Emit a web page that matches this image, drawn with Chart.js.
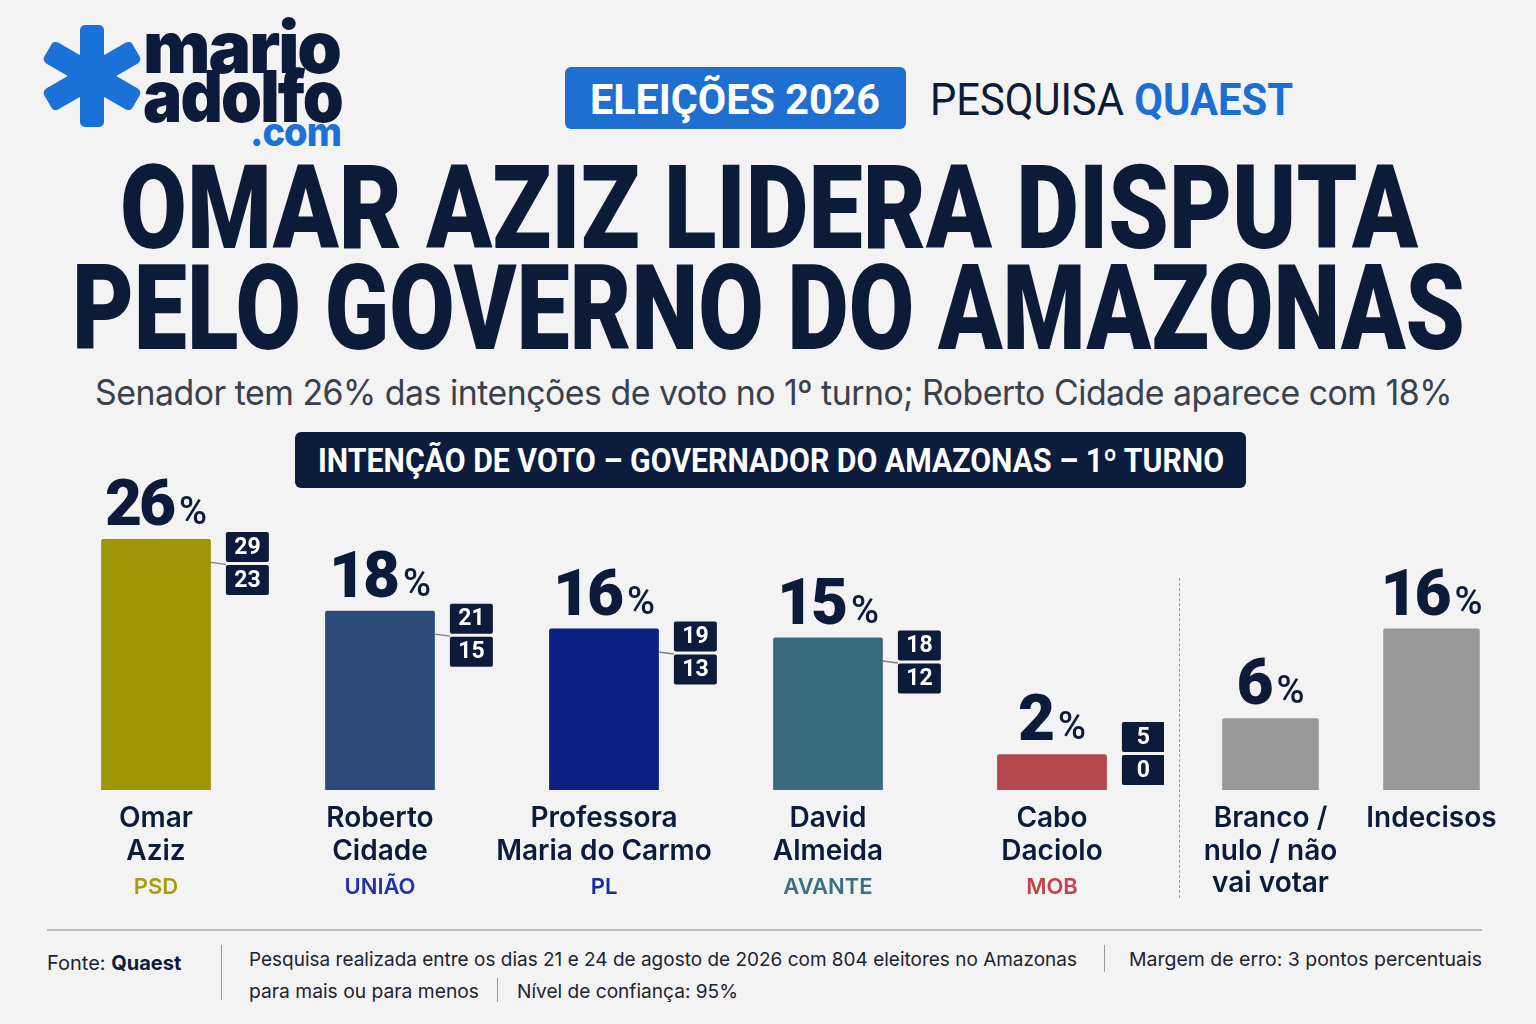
<!DOCTYPE html>
<html><head><meta charset="utf-8">
<script src="https://cdn.jsdelivr.net/npm/chart.js@4.4.1/dist/chart.umd.min.js"></script>
<style>
html,body{margin:0;padding:0;background:#f3f3f3;}
#page{position:relative;width:1536px;height:1024px;overflow:hidden;background:#f3f3f3;font-family:Inter,"Noto Sans",sans-serif;color:#0d1b3a;}
.abs{position:absolute;white-space:nowrap;line-height:1;}
.fit{transform-origin:0 0;display:inline-block;}
canvas{position:absolute;}
</style></head>
<body><div id="page">
<svg class="abs" style="left:0;top:0" width="160" height="160">
 <g transform="translate(92,76)" fill="#1a72d8">
  <rect x="-12" y="-51" width="24" height="102" rx="5"/>
  <rect x="-12" y="-51" width="24" height="102" rx="5" transform="rotate(60)"/>
  <rect x="-12" y="-51" width="24" height="102" rx="5" transform="rotate(120)"/>
 </g>
</svg>
<div class="abs fit" data-w="197" style="left:143px;top:3px;font:900 72px Inter;color:#0d1b3a;letter-spacing:-2px">mario</div>
<div class="abs fit" data-w="199" style="left:143px;top:52px;font:900 72px Inter;color:#0d1b3a;letter-spacing:-2px">adolfo</div>
<div class="abs fit" data-w="91" style="left:250px;top:107px;font:800 40px Inter;color:#1a72d8;letter-spacing:-1px">.com</div>

<div class="abs" style="left:565px;top:67px;width:341px;height:62px;background:#1f6fd1;border-radius:6px;"></div>
<div class="abs fit" data-w="290" style="left:590px;top:74px;font:700 43px Roboto;color:#fff">ELEIÇÕES 2026</div>
<div class="abs fit" data-w="363" style="left:930px;top:73px;font:400 45px Roboto;color:#0d1b3a">PESQUISA <b style="color:#1a6fd0;font-weight:700">QUAEST</b></div>

<div class="abs fit" data-w="1298" style="left:120px;top:139px;font:900 117px Roboto;color:#0c1b38">OMAR AZIZ LIDERA DISPUTA</div>
<div class="abs fit" data-w="1393" style="left:72px;top:239px;font:900 119px Roboto;color:#0c1b38">PELO GOVERNO DO AMAZONAS</div>

<div class="abs fit" data-w="1357" style="left:95px;top:371px;font:400 35px Inter;color:#3a404c;letter-spacing:-0.5px">Senador tem 26% das intenções de voto no 1º turno; Roberto Cidade aparece com 18%</div>

<div class="abs" style="left:295px;top:432px;width:951px;height:56px;background:#0c1c3d;border-radius:6px;"></div>
<div class="abs fit" data-w="906" style="left:318px;top:441px;font:700 33px Roboto;color:#fff">INTENÇÃO DE VOTO – GOVERNADOR DO AMAZONAS – 1º TURNO</div>

<div class="abs" style="left:1179px;top:578px;height:320px;border-left:1.5px dashed #9a9a9a;"></div>

<canvas id="c1" width="1120" height="460" style="left:44px;top:460px"></canvas>
<canvas id="c2" width="322" height="460" style="left:1190px;top:460px"></canvas>

<div class="abs" style="left:47px;top:929px;width:1435px;height:2px;background:#bdbdbd;"></div>
<div class="abs" style="left:47px;top:951px;font:400 20px Inter;color:#1d2330">Fonte: <b style="color:#0d1b3a">Quaest</b></div>
<div class="abs" style="left:221px;top:945px;height:55px;border-left:1.5px solid #9a9a9a;"></div>
<div class="abs fit" data-w="828" style="left:249px;top:948px;font:400 19px Inter;color:#1d2330">Pesquisa realizada entre os dias 21 e 24 de agosto de 2026 com 804 eleitores no Amazonas</div>
<div class="abs" style="left:1104px;top:945px;height:27px;border-left:1.5px solid #9a9a9a;"></div>
<div class="abs fit" data-w="353" style="left:1129px;top:948px;font:400 19px Inter;color:#1d2330">Margem de erro: 3 pontos percentuais</div>
<div class="abs fit" data-w="230" style="left:249px;top:980px;font:400 19px Inter;color:#1d2330">para mais ou para menos</div>
<div class="abs" style="left:497px;top:978px;height:24px;border-left:1.5px solid #9a9a9a;"></div>
<div class="abs fit" data-w="221" style="left:517px;top:980px;font:400 19px Inter;color:#1d2330">Nível de confiança: 95%</div>
</div>
<script>
// ---- data ----
const candidates = [["Omar","Aziz"],["Roberto","Cidade"],["Professora","Maria do Carmo"],["David","Almeida"],["Cabo","Daciolo"]];
const parties = ["PSD","UNIÃO","PL","AVANTE","MOB"];
const candidateVotes = [26,18,16,15,2];
const marginHigh = [29,21,19,18,5];
const marginLow = [23,15,13,12,0];
const otherLabels = [["Branco /","nulo / não","vai votar"],["Indecisos"]];
const otherVotes = [6,16];
const yMin = -2;
const yMax = 30;
// ---- styles ----
const barColors = ["#9e9606","#2b4a7a","#0c1f82","#3a6a7d","#b5484f"];
const partyColors = ["#a89d12","#1f33a6","#1a2aa0","#3c6f81","#c2434c"];
const otherColors = ["#999999","#999999"];

const NAVY = '#0d1b3a';
function rr(ctx,x,y,w,h,r){ctx.beginPath();ctx.roundRect(x,y,w,h,r);ctx.fill();}
const labelPlugin = {
  id:'barLabels',
  afterDatasetsDraw(chart, args, opts){
    const ctx = chart.ctx;
    const meta = chart.getDatasetMeta(0);
    const base = chart.scales.y.getPixelForValue(yMin);
    const ds = chart.data.datasets[0];
    ctx.save();
    meta.data.forEach((bar,i)=>{
      const v = ds.data[i];
      // value label
      ctx.textBaseline = 'alphabetic';
      ctx.textAlign = 'left';
      ctx.fillStyle = NAVY;
      ctx.font = '900 64px Roboto';
      ctx.letterSpacing = '-3px';
      const num = String(v);
      const w1 = ctx.measureText(num).width;
      ctx.font = '500 38px Roboto';
      ctx.letterSpacing = '0px';
      const w2 = ctx.measureText('%').width;
      const gap = 6;
      const sx = bar.x - (w1+gap+w2)/2;
      const by = bar.y - 14;
      ctx.font = '900 64px Roboto';
      ctx.letterSpacing = '-3px';
      ctx.fillText(num, sx, by);
      ctx.font = '500 38px Roboto';
      ctx.letterSpacing = '0px';
      ctx.fillText('%', sx+w1+gap, by-1);
      // names
      ctx.textAlign = 'center';
      ctx.textBaseline = 'middle';
      ctx.font = '600 28px Inter';
      ctx.fillStyle = NAVY;
      const lines = chart.data.labels[i];
      lines.forEach((l,j)=>ctx.fillText(l, bar.x, base+29+j*32.5));
      if (opts.parties){
        ctx.font = '600 22px Inter';
        ctx.fillStyle = opts.partyColors[i];
        ctx.fillText(opts.parties[i], bar.x, base+29+lines.length*32.5+3);
      }
      // margin boxes
      if (opts.high){
        const right = bar.x + bar.width/2;
        const bx = right + 15;
        const top = Math.min(bar.y - 7, base - 68);
        const bw = 43, bh = 30;
        const jy = top + bh + 1.5;
        if (jy > bar.y + 2){
          ctx.strokeStyle = '#7a808c';
          ctx.lineWidth = 1.5;
          ctx.beginPath();ctx.moveTo(right, jy-1);ctx.lineTo(bx, jy+1);ctx.stroke();
        }
        ctx.fillStyle = NAVY;
        rr(ctx,bx,top,bw,bh,2);
        rr(ctx,bx,top+bh+3,bw,bh,2);
        ctx.fillStyle = '#ffffff';
        ctx.font = '700 23px Roboto';
        ctx.fillText(String(opts.high[i]), bx+bw/2, top+bh/2+1);
        ctx.fillText(String(opts.low[i]), bx+bw/2, top+bh+3+bh/2+1);
      }
    });
    ctx.restore();
  }
};

function makeChart(id, labels, data, colors, barPct, pluginOpts){
  return new Chart(document.getElementById(id), {
    type:'bar',
    data:{labels:labels, datasets:[{data:data, base:yMin, backgroundColor:colors, borderRadius:2, borderSkipped:'bottom', barPercentage:barPct, categoryPercentage:1}]},
    options:{
      responsive:false, animation:false, devicePixelRatio:1,
      layout:{padding:{top:43,bottom:130,left:0,right:0}},
      plugins:{legend:{display:false}, tooltip:{enabled:false}, barLabels:pluginOpts},
      scales:{
        x:{display:false, grid:{display:false}},
        y:{display:false, min:yMin, max:yMax, grid:{display:false}}
      }
    },
    plugins:[labelPlugin]
  });
}
document.fonts.ready.then(()=>{
  document.querySelectorAll('.fit').forEach(el=>{
    el.style.transform='none';
    const w = el.getBoundingClientRect().width;
    el.style.transform = 'scaleX(' + (+el.dataset.w/w) + ')';
  });
  makeChart('c1', candidates, candidateVotes, barColors, 0.49, {parties:parties, partyColors:partyColors, high:marginHigh, low:marginLow});
  makeChart('c2', otherLabels, otherVotes, otherColors, 0.6, {});
});
</script>
</body></html>
